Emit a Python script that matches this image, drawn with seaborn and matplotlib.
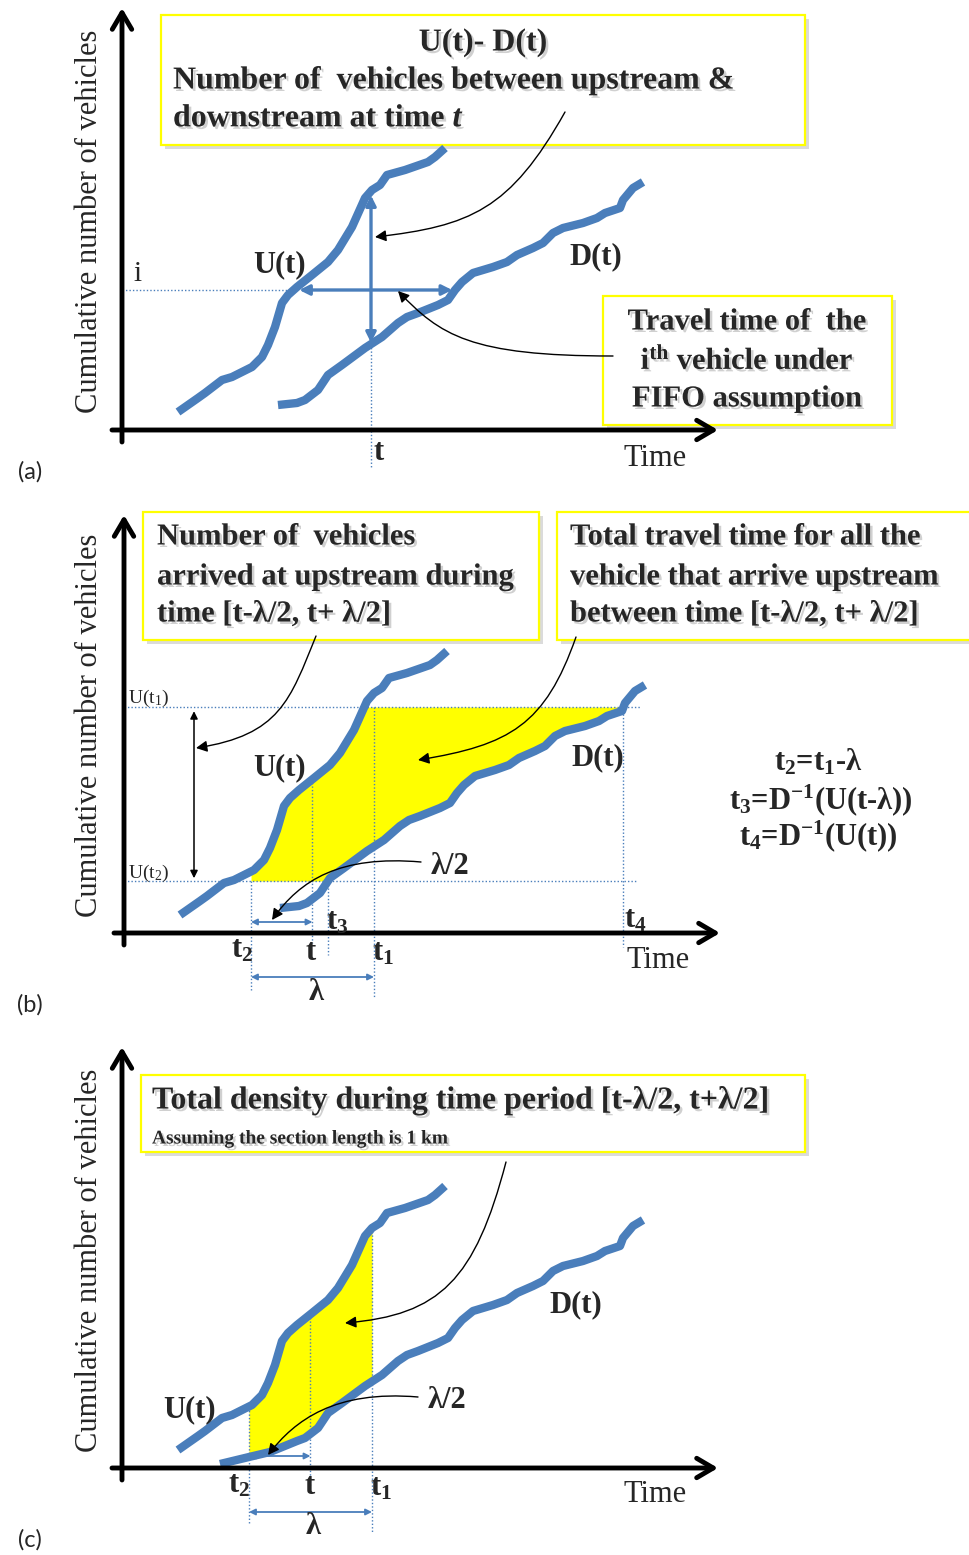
import numpy as np
import matplotlib
matplotlib.use("Agg")
import matplotlib.pyplot as plt
import matplotlib.transforms as mtransforms
import matplotlib.patheffects as pe
from matplotlib.patches import FancyArrowPatch, Rectangle
from matplotlib.path import Path
import seaborn as sns

# ---------------------------------------------------------------------------
# Data: cumulative vehicle counts (time units, vehicles)
# ---------------------------------------------------------------------------
# upstream arrival curve U(t)
U_T = np.array([56, 76, 83, 100, 110, 130, 140, 146, 153, 160, 166, 175,
                190, 206, 216, 230, 243, 250, 258, 265, 283, 306, 313, 323])
U_N = np.array([18, 32, 37, 50, 53, 63, 73, 85, 103, 127, 135, 143,
                155, 168, 180, 203, 232, 240, 245, 255, 260, 268, 273, 282])

# downstream departure curve D(t)
D_T = np.array([156, 175, 183, 196, 206, 220, 243, 260, 276, 285, 296, 316,
                326, 333, 340, 351, 371, 385, 395, 411, 421, 431, 441, 461,
                475, 483, 498, 501, 511, 521])
D_N = np.array([25, 27, 30, 40, 55, 65, 82, 93, 107, 113, 117, 125,
                130, 140, 148, 157, 163, 168, 175, 182, 187, 197, 202, 207,
                212, 217, 222, 230, 242, 248])

# earlier departures shown in the density panel
D_LEAD_T = np.array([98, 127, 148])
D_LEAD_N = np.array([4, 11, 16])

N_I = 140          # vehicle index i
T_A = 249          # time t in panel (a)
T1 = 250           # t1
LAMBDA = 123       # window length lambda
T2 = T1 - LAMBDA
T_MID = T1 - LAMBDA / 2
U_T1 = 226         # U(t1)
U_T2 = 52          # U(t2)

# ---------------------------------------------------------------------------
sns.set_style("white")
plt.rcParams["font.family"] = ["Liberation Serif", "DejaVu Serif"]
plt.rcParams["mathtext.fontset"] = "custom"
plt.rcParams["mathtext.rm"] = "Liberation Serif"
plt.rcParams["mathtext.it"] = "Liberation Serif:bold"
plt.rcParams["mathtext.bf"] = "Liberation Serif:bold"
plt.rcParams["mathtext.sf"] = "Liberation Serif:bold:italic"

BLUE = "#4a7ebb"
YELLOW = "#ffff00"
W, H = 970, 1555

fig = plt.figure(figsize=(W / 100, H / 100), dpi=100, facecolor="white")
PX = mtransforms.Affine2D().scale(1 / W, -1 / H).translate(0, 1) + fig.transFigure

TXT_SHADOW = [pe.SimplePatchShadow(offset=(1.8, -1.8), shadow_rgbFace="#7a7a7a", alpha=0.35),
              pe.Normal()]
BOX_SHADOW = [pe.SimplePatchShadow(offset=(3, -3), shadow_rgbFace="#9a9a9a", alpha=0.35),
              pe.Normal()]


def U_at(t):
    return np.interp(t, U_T, U_N)


def U_inv(n):
    return np.interp(n, U_N, U_T)


def D_inv(n):
    return np.interp(n, D_N, D_T)


def make_panel(ox, oy, top, bot):
    ax = fig.add_axes([0, 1 - bot / H, 1, (bot - top) / H])
    ax.set_xlim(-ox, W - ox)
    ax.set_ylim(oy - bot, oy - top)
    ax.axis("off")
    return ax


def axis_arrows(ax, ytop, xright):
    style = "->,head_length=0.85,head_width=0.5"
    kw = dict(arrowstyle=style, lw=3.5, color="black", shrinkA=0, shrinkB=0,
              mutation_scale=14)
    ax.annotate("", xy=(0, ytop), xytext=(0, -12), arrowprops=kw, zorder=6)
    ax.annotate("", xy=(xright, 0), xytext=(-10, 0), arrowprops=kw, zorder=6)


def curve(ax, t, n):
    sns.lineplot(x=t, y=n, sort=False, estimator=None, color=BLUE, linewidth=6,
                 ax=ax, solid_capstyle="butt", solid_joinstyle="round", zorder=5)


def dotted(ax, xs, ys):
    ax.plot(xs, ys, color=BLUE, lw=1.0, ls=(0, (1, 1.5)), zorder=3)


def box(ax, x, y, w, h):
    ax.add_patch(Rectangle((x, y), w, h, transform=PX, facecolor="white",
                           edgecolor=YELLOW, lw=1.6, zorder=2,
                           path_effects=BOX_SHADOW))


def btext(ax, x, y, s, size=22, ha="left", shadow=True, weight="bold", **kw):
    ax.text(x, y, s, transform=PX, ha=ha, va="center", fontsize=size,
            fontweight=weight, zorder=9,
            path_effects=TXT_SHADOW if shadow else None, **kw)


def tlabel(ax, t, n, s, dx, dy, size=22, weight="bold", ha="center"):
    ax.annotate(s, xy=(t, n), xytext=(dx, dy), textcoords="offset pixels",
                ha=ha, va="center", fontsize=size, fontweight=weight, zorder=9)


def callout(ax, pts):
    codes = [Path.MOVETO, Path.CURVE4, Path.CURVE4, Path.CURVE4]
    ax.add_patch(FancyArrowPatch(path=Path(pts, codes),
                                 arrowstyle="-|>,head_length=0.55,head_width=0.28",
                                 mutation_scale=12, lw=1.0, color="black",
                                 transform=PX, zorder=8))


def blue_arrow(ax, p0, p1, lw=1.3, ms=9, sa=0, sb=0):
    ax.add_patch(FancyArrowPatch(p0, p1, arrowstyle="<|-|>", mutation_scale=ms,
                                 lw=lw, color=BLUE, shrinkA=sa, shrinkB=sb, zorder=6))


def frame(ax, letter, ly, yc):
    ax.text(30, ly, letter, transform=PX, ha="center", va="center",
            fontsize=17, family="Lato", zorder=9)
    ax.text(90, yc, "Cumulative number of vehicles", transform=PX, rotation=90,
            ha="center", va="center", fontsize=22, zorder=9)


# ---------------------------------------------------------------------------
# (a) travel time and number of vehicles in the section
# ---------------------------------------------------------------------------
ax = make_panel(122, 430, 0, 490)
axis_arrows(ax, 422, 596)
box(ax, 161, 15, 644, 130)
btext(ax, 483, 43, "U(t)- D(t)", ha="center", size=23)
btext(ax, 173, 81, "Number of  vehicles between upstream &", size=23)
btext(ax, 173, 119, r"downstream at time $\mathsf{t}$", size=23)
box(ax, 603, 296, 289, 129)
btext(ax, 747, 322, "Travel time of  the", ha="center")
btext(ax, 747, 361, r"i$^{\mathbf{th}}$ vehicle under", ha="center")
btext(ax, 747, 399, "FIFO assumption", ha="center")

t_ui = U_inv(N_I)
t_di = D_inv(N_I)
u_a = U_at(T_A)
d_a = np.interp(T_A, D_T, D_N)
dotted(ax, [0, t_ui], [N_I, N_I])
dotted(ax, [T_A, T_A], [d_a, -37])
curve(ax, U_T, U_N)
curve(ax, D_T, D_N)
blue_arrow(ax, (t_ui, N_I), (t_di, N_I), lw=2.4, ms=15, sa=4, sb=2)
blue_arrow(ax, (T_A, u_a), (T_A, d_a), lw=2.4, ms=15, sa=3, sb=1)
tlabel(ax, 16, N_I, "i", 0, 16, size=21, weight="normal")
tlabel(ax, T_A, 0, "t", 8, -22)
btext(ax, 655, 458, "Time", ha="center", shadow=False, weight="normal")
btext(ax, 280, 265, "U(t)", ha="center", shadow=False)
btext(ax, 596, 257, "D(t)", ha="center", shadow=False)
callout(ax, [(565, 112), (510, 210), (470, 226), (375, 237)])
callout(ax, [(613, 356), (470, 356), (440, 335), (398, 291)])
frame(ax, "(a)", 472, 221)

# ---------------------------------------------------------------------------
# (b) total travel time between t - lambda/2 and t + lambda/2
# ---------------------------------------------------------------------------
ax = make_panel(124, 933, 490, 1025)
axis_arrows(ax, 418, 596)
box(ax, 143, 512, 396, 128)
btext(ax, 157, 537, "Number of  vehicles")
btext(ax, 157, 577, "arrived at upstream during")
btext(ax, 157, 614, "time [t-λ/2, t+ λ/2]")
box(ax, 557, 512, 430, 128)
btext(ax, 570, 537, "Total travel time for all the")
btext(ax, 570, 577, "vehicle that arrive upstream")
btext(ax, 570, 614, "between time [t-λ/2, t+ λ/2]")

T3 = D_inv(U_T2)
T4 = D_inv(U_T1)
n_band = np.linspace(U_T2, U_T1, 300)
ax.fill_betweenx(n_band, np.maximum(U_inv(n_band), T2), D_inv(n_band),
                 color=YELLOW, lw=0, zorder=1)
dotted(ax, [0, T4 + 18], [U_T1, U_T1])
dotted(ax, [0, T4 + 13], [U_T2, U_T2])
dotted(ax, [T2, T2], [U_T2, -57])
dotted(ax, [T_MID, T_MID], [U_at(T_MID), -10])
dotted(ax, [T3, T3], [U_T2, -22])
dotted(ax, [T1, T1], [U_T1, -64])
dotted(ax, [T4, T4], [U_T1, -14])
curve(ax, U_T, U_N)
curve(ax, D_T, D_N)
blue_arrow(ax, (T2, 11), (T_MID, 11))
blue_arrow(ax, (T2, -44), (T1, -44))
ax.add_patch(FancyArrowPatch((70, U_T1), (70, U_T2), arrowstyle="<|-|>",
                             mutation_scale=11, lw=1.1, color="black",
                             shrinkA=3, shrinkB=2, zorder=6))
tlabel(ax, 4, U_T1, r"U(t$_1$)", 0, 9, size=14, weight="normal", ha="left")
tlabel(ax, 4, U_T2, r"U(t$_2$)", 0, 8, size=14, weight="normal", ha="left")
tlabel(ax, T2, 0, r"t$_{\mathbf{2}}$", -9, -17)
tlabel(ax, T_MID, 0, "t", -2, -19)
tlabel(ax, T1, 0, r"t$_{\mathbf{1}}$", 9, -20)
tlabel(ax, T3, 0, r"t$_{\mathbf{3}}$", 9, 11)
tlabel(ax, T4, 0, r"t$_{\mathbf{4}}$", 12, 13)
tlabel(ax, (T2 + T1) / 2, -44, "λ", 4, -16)
btext(ax, 658, 961, "Time", ha="center", shadow=False, weight="normal")
btext(ax, 280, 768, "U(t)", ha="center", shadow=False)
btext(ax, 598, 758, "D(t)", ha="center", shadow=False)
btext(ax, 450, 866, "λ/2", ha="center", shadow=False)
btext(ax, 818, 762, r"t$_{\mathbf{2}}$=t$_{\mathbf{1}}$-λ", ha="center", shadow=False, size=22)
btext(ax, 821, 800, r"t$_{\mathbf{3}}$=D$^{\mathbf{-1}}$(U(t-λ))", ha="center", shadow=False, size=22)
btext(ax, 818, 836, r"t$_{\mathbf{4}}$=D$^{\mathbf{-1}}$(U(t))", ha="center", shadow=False, size=22)
callout(ax, [(316, 636), (290, 700), (280, 735), (196, 748)])
callout(ax, [(576, 637), (545, 725), (510, 745), (418, 760)])
callout(ax, [(421, 862), (340, 855), (300, 880), (272, 920)])
frame(ax, "(b)", 1005, 725)

# ---------------------------------------------------------------------------
# (c) total density over the same window
# ---------------------------------------------------------------------------
ax = make_panel(122, 1468, 1025, 1555)
axis_arrows(ax, 421, 596)
box(ax, 141, 1075, 664, 77)
btext(ax, 152, 1101, "Total density during time period [t-λ/2, t+λ/2]", size=23)
btext(ax, 152, 1139, "Assuming the section length is 1 km", size=14)

keep = D_T > 170
DC_T = np.concatenate([D_LEAD_T, D_T[keep]])
DC_N = np.concatenate([D_LEAD_N, D_N[keep]])
t_band = np.linspace(T2, T1, 300)
ax.fill_between(t_band, np.interp(t_band, DC_T, DC_N), U_at(t_band),
                color=YELLOW, lw=0, zorder=1)
dotted(ax, [T2, T2], [U_at(T2), -57])
dotted(ax, [T_MID, T_MID], [U_at(T_MID), -17])
dotted(ax, [T1, T1], [U_at(T1), -64])
curve(ax, U_T, U_N)
curve(ax, DC_T, DC_N)
blue_arrow(ax, (T2, 12), (T_MID, 12))
blue_arrow(ax, (T2, -44), (T1, -44))
tlabel(ax, T2, 0, r"t$_{\mathbf{2}}$", -10, -17)
tlabel(ax, T_MID, 0, "t", -1, -19)
tlabel(ax, T1, 0, r"t$_{\mathbf{1}}$", 9, -20)
tlabel(ax, (T2 + T1) / 2, -44, "λ", 3, -15)
btext(ax, 655, 1495, "Time", ha="center", shadow=False, weight="normal")
btext(ax, 190, 1410, "U(t)", ha="center", shadow=False)
btext(ax, 576, 1305, "D(t)", ha="center", shadow=False)
btext(ax, 447, 1400, "λ/2", ha="center", shadow=False)
callout(ax, [(506, 1162), (475, 1280), (440, 1315), (345, 1323)])
callout(ax, [(418, 1397), (335, 1390), (295, 1420), (268, 1455)])
frame(ax, "(c)", 1540, 1260)

fig.savefig("out.png", dpi=100, facecolor="white")
